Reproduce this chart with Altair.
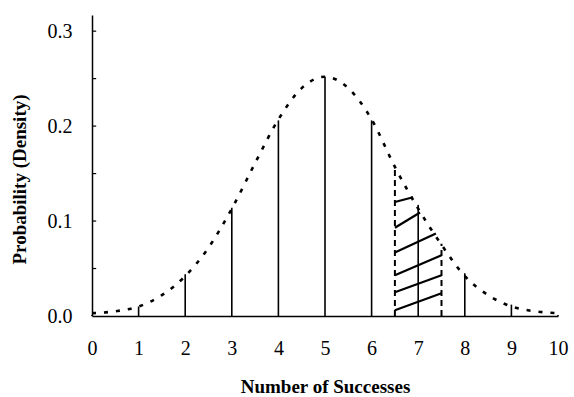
import altair as alt
import pandas as pd

# Binomial probabilities for n = 10, p = 0.5
successes = list(range(11))
probabilities = [0.001, 0.010, 0.044, 0.114, 0.206, 0.252, 0.206, 0.117, 0.045, 0.012, 0.001]

# Approximating normal curve (mean 5, sd ~1.58), sampled every half step
curve_x = [0, 0.5, 1, 1.5, 2, 2.5, 3, 3.5, 4, 4.5, 5, 5.5, 6, 6.5, 7, 7.5, 8, 8.5, 9, 9.5, 10]
curve_y = [0.003, 0.005, 0.010, 0.022, 0.042, 0.072, 0.113, 0.161, 0.207, 0.240, 0.252,
           0.240, 0.207, 0.157, 0.113, 0.075, 0.042, 0.022, 0.010, 0.005, 0.003]

# Continuity-correction interval around 7 successes
bound_x = [6.5, 7.5]
bound_top = [0.155, 0.076]

# Hatch strokes inside the interval (start and end points)
hatch_x1 = [6.5, 6.5, 6.5, 6.5, 6.5, 6.5]
hatch_y1 = [0.006, 0.025, 0.043, 0.067, 0.093, 0.120]
hatch_x2 = [7.5, 7.5, 7.5, 7.38, 7.04, 6.89]
hatch_y2 = [0.024, 0.043, 0.064, 0.087, 0.109, 0.125]

# Inward ticks on the probability axis
tick_values = [0.05, 0.10, 0.15, 0.20, 0.25, 0.30]

FONT = "Liberation Serif"
x_scale = alt.Scale(domain=[0, 10], nice=False, zero=False)
y_scale = alt.Scale(domain=[0, 0.317], nice=False)

x_axis = alt.Axis(values=successes, format="d", tickSize=0, grid=False,
                  labelFont=FONT, labelFontSize=20, labelPadding=22, labelFlush=False,
                  labelColor="black", domainColor="black", domainWidth=1.5,
                  title="Number of Successes", titleFont=FONT, titleFontSize=19,
                  titleFontWeight="bold", titleColor="black", titlePadding=19)
y_axis = alt.Axis(values=[0, 0.1, 0.2, 0.3], format=".1f", tickSize=0, grid=False,
                  labelFont=FONT, labelFontSize=20, labelPadding=20, labelFlush=False,
                  labelColor="black", domainColor="black", domainWidth=1.5,
                  title="Probability (Density)", titleFont=FONT, titleFontSize=19,
                  titleFontWeight="bold", titleColor="black", titlePadding=18,
                  titleY=164)


def X(field):
    return alt.X(field, type="quantitative", scale=x_scale, axis=x_axis)


def Y(field):
    return alt.Y(field, type="quantitative", scale=y_scale, axis=y_axis)


bars_df = pd.DataFrame({"k": successes, "p": probabilities, "zero": [0] * 11})
curve_df = pd.DataFrame({"x": curve_x, "y": curve_y})
bound_df = pd.DataFrame({"x": bound_x, "top": bound_top, "zero": [0, 0]})
hatch_df = pd.DataFrame({"x1": hatch_x1, "y1": hatch_y1, "x2": hatch_x2, "y2": hatch_y2})
ticks_df = pd.DataFrame({"v": tick_values, "a": [0] * len(tick_values),
                         "b": [0.09] * len(tick_values)})

curve = alt.Chart(curve_df).mark_line(
    color="black", strokeWidth=2.6, strokeDash=[4, 8], interpolate="monotone"
).encode(x=X("x"), y=Y("y"))

bars = alt.Chart(bars_df).mark_rule(color="black", strokeWidth=1.6).encode(
    x=X("k"), y=Y("zero"), y2="p:Q"
)

bounds = alt.Chart(bound_df).mark_rule(
    color="black", strokeWidth=2, strokeDash=[6, 4]
).encode(x=X("x"), y=Y("zero"), y2="top:Q")

hatch = alt.Chart(hatch_df).mark_rule(color="black", strokeWidth=2.2).encode(
    x=X("x1"), y=Y("y1"), x2="x2:Q", y2="y2:Q"
)

ticks = alt.Chart(ticks_df).mark_rule(color="black", strokeWidth=1.2).encode(
    x=X("a"), x2="b:Q", y=Y("v")
)

chart = alt.layer(bars, curve, bounds, hatch, ticks).properties(
    width=466, height=301,
    autosize=alt.AutoSizeParams(type="none"),
    padding={"left": 92, "top": 15, "right": 16, "bottom": 81},
    background="white",
).configure_view(stroke=None)

chart.save("out.html", embed_options={"renderer": "svg", "actions": False})
